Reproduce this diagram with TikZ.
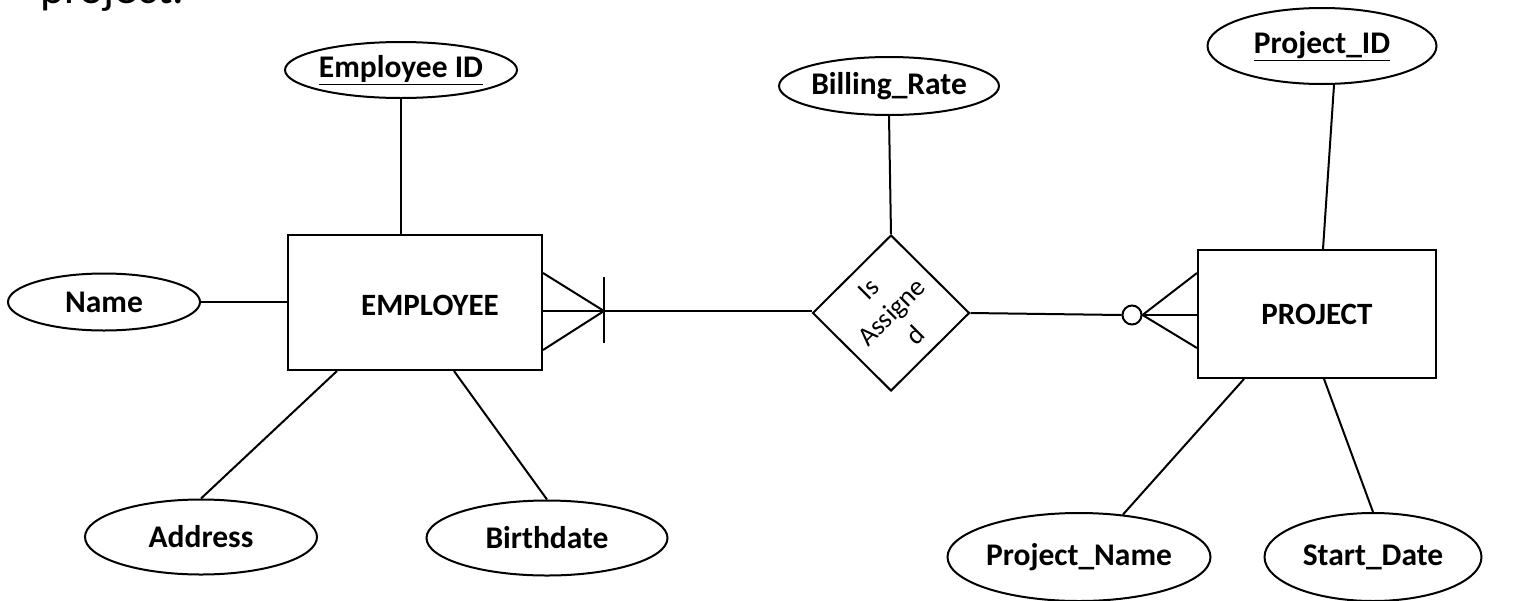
\documentclass[tikz,border=0pt]{standalone}
\usepackage{fontspec}
\setmainfont{Carlito}
\usetikzlibrary{shapes.geometric,calc}
\begin{document}
\begin{tikzpicture}[x=1pt,y=-1pt,
  attr/.style={ellipse,draw,line width=2pt,inner sep=0pt,font=\fontsize{31.5}{36}\selectfont\bfseries},
  ent/.style={rectangle,draw,line width=2pt,inner sep=0pt},
  entlabel/.style={font=\fontsize{31}{36}\selectfont\bfseries},
  rel/.style={diamond,draw,line width=2pt,inner sep=0pt},
  conn/.style={line width=2pt}]
\useasboundingbox (0,0) rectangle (1518,600);
\clip (0,0) rectangle (1518,600);
\fill[white] (0,0) rectangle (1518,600);

\node[anchor=base west,inner sep=0pt,font=\fontsize{46}{50}\selectfont] (title) at (40,3) {project.};

% entities
\node[ent,minimum width=254pt,minimum height=135pt,
  label={[entlabel,xshift=15pt,yshift=-3pt]center:EMPLOYEE}] (emp) at (415,302.5) {};
\node[ent,minimum width=238pt,minimum height=128pt,
  label={[entlabel]center:PROJECT}] (proj) at (1317,314) {};

% relationship
\node[rel,minimum width=157pt,minimum height=156pt,
  label={[rotate=45,align=center,font=\fontsize{27}{33}\selectfont,xshift=1pt]center:Is\\Assigne\\d}] (assg) at (891,313) {};

% attributes
\node[attr,minimum width=229pt,minimum height=56pt] (eid) at (401,70) {\underline{Employee ID}};
\node[attr,minimum width=192pt,minimum height=57pt] (name) at (104,302) {Name};
\node[attr,minimum width=232pt,minimum height=75pt] (addr) at (201,537) {Address};
\node[attr,minimum width=241pt,minimum height=75pt] (bd) at (547,538) {Birthdate};
\node[attr,minimum width=192pt,minimum height=58pt] (br) at (889,86) {Billing\_Rate};
\node[attr,minimum width=229pt,minimum height=76pt] (pid) at (1322,46) {\underline{Project\_ID}};
\node[attr,minimum width=217pt,minimum height=88pt] (pn) at (1079,557) {Project\_Name};
\node[attr,minimum width=217pt,minimum height=88pt] (sd) at (1373,557) {Start\_Date};

% attribute connectors
\draw[conn] (eid.south) -- (eid.south |- emp.north);
\draw[conn] (name.east) -- (name.east -| emp.west);
\draw[conn] (addr.north) -- ($(emp.south west)+(50,0)$);
\draw[conn] (bd.north) -- ($(emp.south west)+(167,0)$);
\draw[conn] (br.south) -- (assg.north);
\draw[conn] ($(pid.south)+(12,0)$) -- ($(proj.north)+(6,0)$);
\draw[conn] (pn.44) -- ($(proj.south west)+(47,0)$);
\draw[conn] (sd.north) -- ($(proj.south west)+(127,0)$);

% left crow's foot (one or many)
\coordinate (lf) at (604,311);
\draw[conn] (lf) -- (lf -| assg.west);
\draw[conn] (lf) -- (lf -| emp.east);
\draw[conn] (lf) -- (emp.east |- 0,273);
\draw[conn] (lf) -- (emp.east |- 0,350);
\draw[conn] ($(lf)+(0,-34)$) -- ($(lf)+(0,32)$);

% right crow's foot (zero or many)
\node[circle,draw,line width=2pt,minimum size=19pt,inner sep=0pt] (ring) at (1132,315) {};
\draw[conn] (assg.east) -- (ring.west);
\draw[conn] (ring.east) -- (proj.west |- 0,273);
\draw[conn] (ring.east) -- (proj.west |- 0,315);
\draw[conn] (ring.east) -- (proj.west |- 0,348);
\end{tikzpicture}
\end{document}
